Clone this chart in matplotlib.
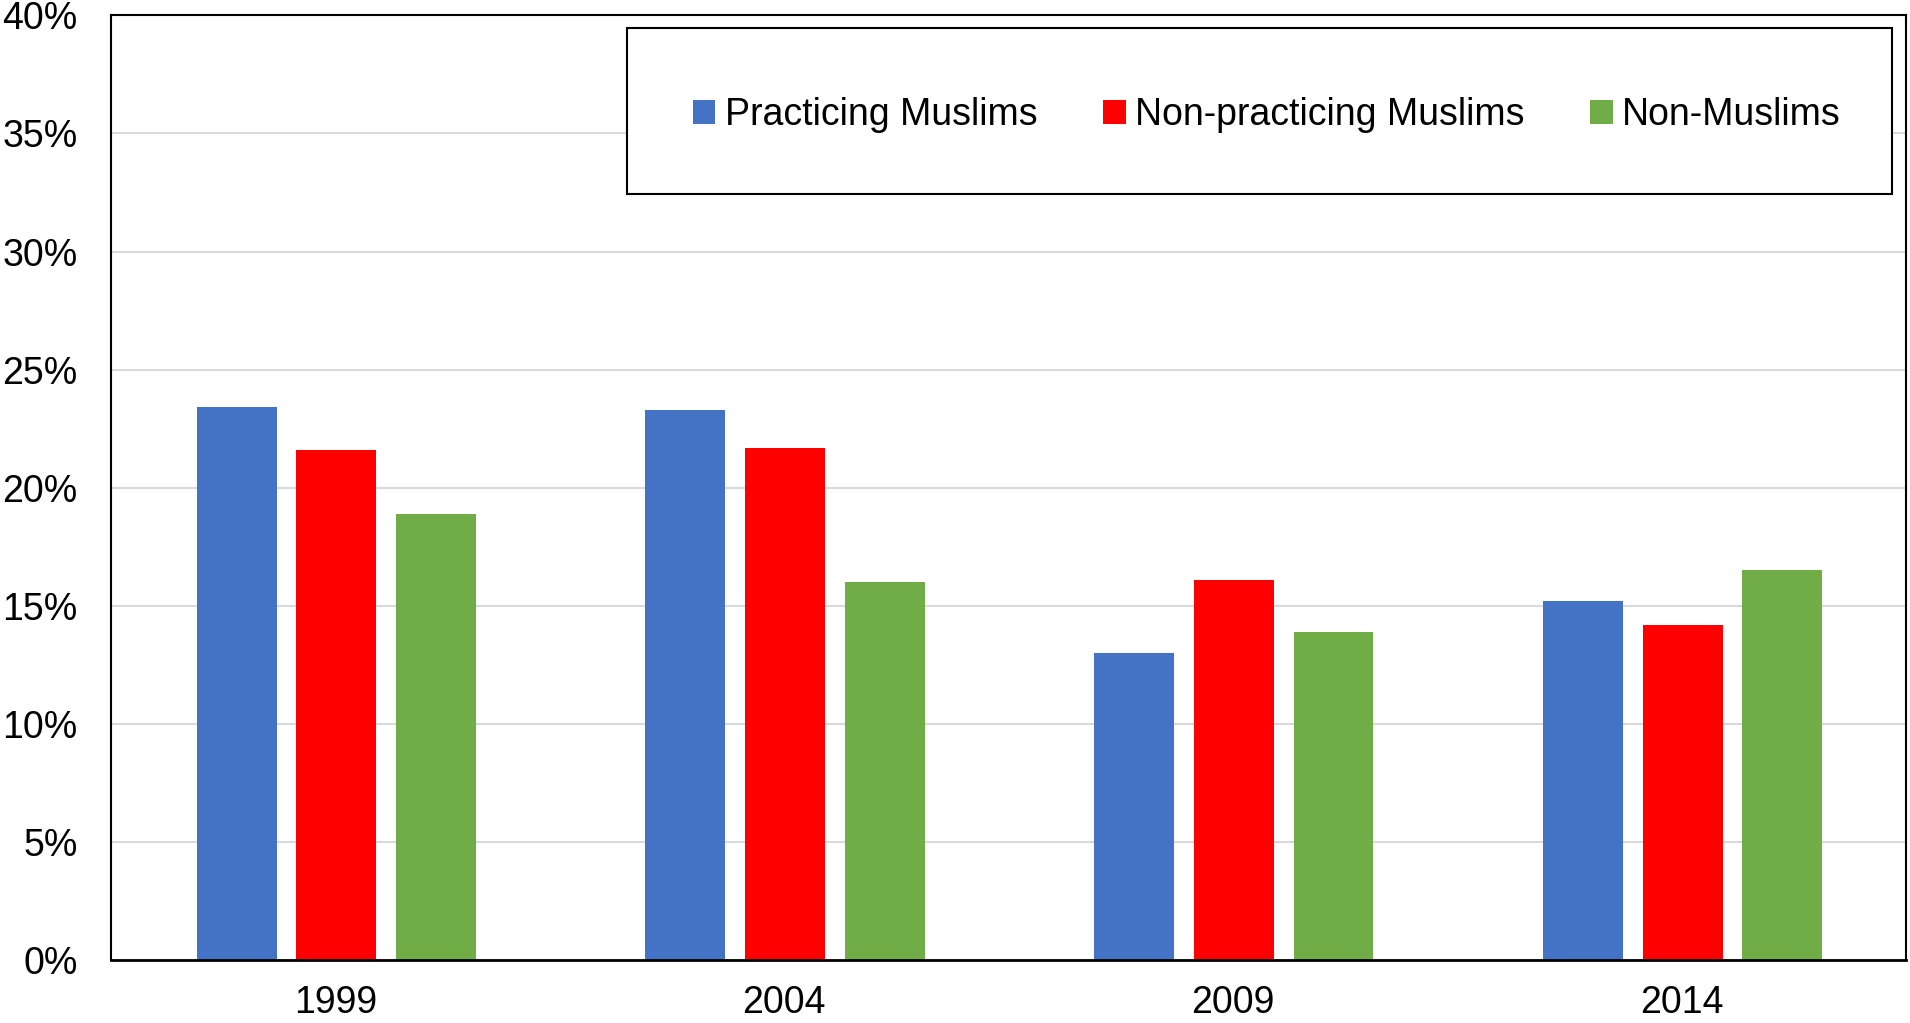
import numpy as np
import matplotlib
matplotlib.use("Agg")
import matplotlib.pyplot as plt
from matplotlib.patches import Rectangle
from matplotlib.ticker import PercentFormatter

plt.rcParams['font.family'] = ['Liberation Sans', 'DejaVu Sans']

years = ["1999", "2004", "2009", "2014"]
series_names = ["Practicing Muslims", "Non-practicing Muslims", "Non-Muslims"]
practicing = [23.4, 23.3, 13.0, 15.2]
non_practicing = [21.6, 21.7, 16.1, 14.2]
non_muslims = [18.9, 16.0, 13.9, 16.5]
colors = ["#4472c4", "#ff0000", "#70ad47"]

fig = plt.figure(figsize=(19.1, 10.23), dpi=100)
ax = fig.add_axes([0.0581, 0.0616, 0.9399, 0.9234])

x = np.arange(len(years))
width = 0.178
step = 0.222
for i, (vals, name) in enumerate(zip([practicing, non_practicing, non_muslims], series_names)):
    ax.bar(x + (i - 1) * step + 0.002, vals, width, color=colors[i], label=name, zorder=3)

ax.set_xlim(-0.5, 3.5)
ax.set_ylim(0, 40)
ax.set_yticks(np.arange(0, 41, 5))
ax.yaxis.set_major_formatter(PercentFormatter(decimals=0))
ax.set_xticks(x)
ax.set_xticklabels(years)
ax.tick_params(axis='both', length=0, labelsize=27)
ax.tick_params(axis='y', pad=24)
ax.tick_params(axis='x', pad=18)
ax.grid(axis='y', color='#d9d9d9', linewidth=1.5, zorder=0)
for s in ax.spines.values():
    s.set_color('black')
    s.set_linewidth(1.5)
ax.spines['bottom'].set_linewidth(2)
ax.spines['bottom'].set_zorder(4)

# legend frame drawn by hand, entries centred inside it
box = (0.2875, 0.8106, 0.7047, 0.1757)
ax.add_patch(Rectangle(box[:2], box[2], box[3], transform=ax.transAxes,
                       facecolor='white', edgecolor='black', linewidth=1.5, zorder=5))
leg = ax.legend(loc='center', bbox_to_anchor=(box[0] + 0.004, box[1] - 0.004, box[2], box[3]),
                ncol=3, frameon=False,
                fontsize=27, handlelength=0.6, handleheight=0.6,
                handletextpad=0.25, columnspacing=1.75)
leg.set_zorder(6)

fig.savefig("out.png", dpi=100)
